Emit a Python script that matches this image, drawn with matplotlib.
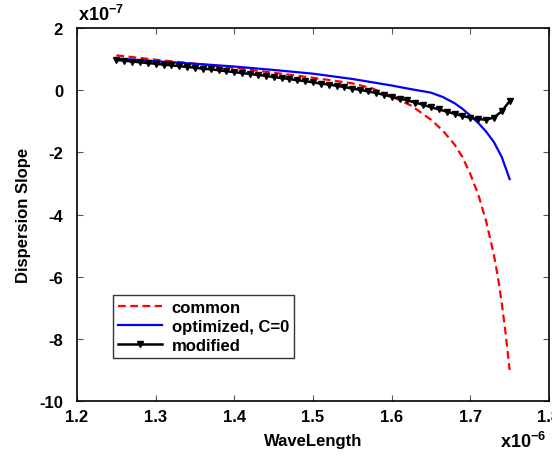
import numpy as np
import matplotlib.pyplot as plt

plt.rcParams['font.family'] = ['Liberation Sans', 'DejaVu Sans']
plt.rcParams['font.weight'] = 'bold'
plt.rcParams['mathtext.fontset'] = 'custom'
plt.rcParams['mathtext.bf'] = 'Liberation Sans:bold'
plt.rcParams['mathtext.rm'] = 'Liberation Sans:bold'

# wavelength in units of 1e-6, dispersion slope in units of 1e-7
common_x = [1.25, 1.30, 1.35, 1.40, 1.45, 1.50, 1.55, 1.575, 1.60, 1.625,
            1.65, 1.665, 1.68, 1.69, 1.70, 1.71, 1.72, 1.73, 1.735, 1.74,
            1.745, 1.75]
common_y = [1.12, 0.98, 0.85, 0.72, 0.56, 0.40, 0.22, 0.06, -0.20, -0.50,
            -0.95, -1.30, -1.75, -2.15, -2.70, -3.35, -4.20, -5.30, -6.00,
            -6.85, -7.85, -9.0]

optim_x = [1.25, 1.30, 1.35, 1.40, 1.45, 1.50, 1.55, 1.60, 1.625, 1.65,
           1.665, 1.68, 1.69, 1.70, 1.71, 1.72, 1.73, 1.74, 1.75]
optim_y = [1.02, 0.93, 0.85, 0.76, 0.65, 0.53, 0.36, 0.15, 0.03, -0.08,
           -0.22, -0.42, -0.60, -0.82, -1.05, -1.33, -1.67, -2.15, -2.86]

mod_x = np.round(np.arange(1.25, 1.7501, 0.01), 2)
mod_y = [0.97, 0.95, 0.92, 0.90, 0.87, 0.85, 0.82, 0.80, 0.77, 0.75,
         0.72, 0.69, 0.67, 0.64, 0.61, 0.58, 0.55, 0.52, 0.49, 0.46,
         0.42, 0.39, 0.36, 0.32, 0.29, 0.25, 0.21, 0.18, 0.14, 0.10,
         0.05, 0.01, -0.04, -0.09, -0.15, -0.21, -0.27, -0.33, -0.40, -0.47,
         -0.55, -0.62, -0.69, -0.76, -0.83, -0.89, -0.93, -0.95, -0.88, -0.68,
         -0.35]

fig = plt.figure(figsize=(5.52, 4.6), dpi=100)
ax = fig.add_axes([0.1395, 0.126, 0.855, 0.811])

ax.plot(common_x, common_y, color='red', ls='--', lw=1.6, dashes=(3.5, 2),
        label='common')
ax.plot(optim_x, optim_y, color='blue', ls='-', lw=1.6, label='optimized, C=0')
ax.plot(mod_x, mod_y, color='black', ls='-', lw=1.8, marker='v', ms=4.5,
        label='modified')

ax.set_xlim(1.2, 1.8)
ax.set_ylim(-10, 2)
ax.set_xticks(np.arange(1.2, 1.81, 0.1))
ax.set_yticks(np.arange(-10, 2.1, 2))
ax.set_xticklabels(['1.2', '1.3', '1.4', '1.5', '1.6', '1.7', '1.8'])
ax.set_yticklabels(['-10', '-8', '-6', '-4', '-2', '0', '2'])
ax.tick_params(direction='in', top=True, right=True, labelsize=12, length=4,
               width=0.8, color='#555555')
ax.tick_params(axis='y', pad=10)
ax.tick_params(axis='x', pad=6)
for s in ax.spines.values():
    s.set_linewidth(1.2)

ax.set_xlabel('WaveLength', fontsize=12, fontweight='bold', labelpad=6)
ax.set_ylabel('Dispersion Slope', fontsize=12, fontweight='bold', labelpad=6)

fig.text(0.142, 0.955, r'x$\mathbf{10^{-7}}$', fontsize=13, fontweight='bold')
fig.text(0.905, 0.025, r'x$\mathbf{10^{-6}}$', fontsize=13, fontweight='bold')

leg = ax.legend(loc='lower left', bbox_to_anchor=(0.077, 0.115), fontsize=12,
                frameon=True, fancybox=False, edgecolor='black',
                handlelength=2.6, borderpad=0.3, labelspacing=0.25,
                handletextpad=0.6, borderaxespad=0)
leg.get_frame().set_linewidth(1.0)

fig.savefig('out.png', dpi=100)
